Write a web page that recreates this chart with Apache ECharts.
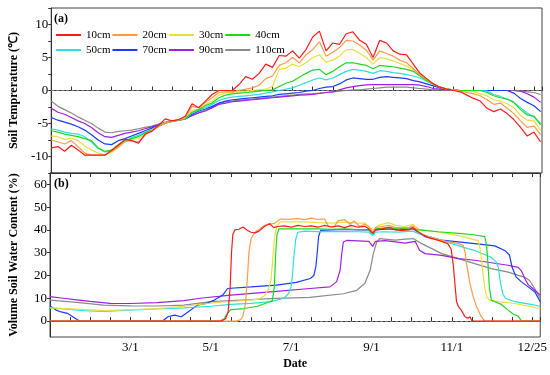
<!DOCTYPE html>
<html><head><meta charset="utf-8">
<script src="https://cdn.jsdelivr.net/npm/echarts@6/dist/echarts.min.js"></script>
<style>html,body{margin:0;padding:0;background:#fff}#c{width:550px;height:375px}</style>
</head><body><div id="c"></div>
<script>
// ---- data ----
const depths = ['10cm','20cm','30cm','40cm','50cm','70cm','90cm','110cm'];
const colors = ['#ff1a1a','#ff9a4a','#e8e040','#1ed81e','#2fdede','#1a3cff','#a020e0','#8a8a8a'];
// temperature sampled every 5 days from Jan 1 (day 0) to day 365
const tDays = Array.from({length:74},(_,i)=>i*5);
const t10 = [-8.7,-8.5,-9.2,-8.3,-9.0,-9.8,-9.8,-9.8,-9.8,-9.1,
 -8.3,-7.4,-7.6,-8.0,-6.6,-6.2,-5.3,-4.3,-4.6,-4.4,
 -3.9,-2.0,-2.6,-1.6,-0.6,0.0,0.0,0.0,0.9,2.1,
 1.7,2.6,4.0,3.5,5.3,5.2,6.0,4.9,6.2,8.1,
 9.0,6.0,7.2,7.0,8.6,8.9,7.6,7.0,5.0,7.6,
 7.2,6.0,5.5,5.4,4.0,2.6,1.8,1.0,0.5,0.2,
 0.0,-0.2,-0.7,-1.2,-1.6,-2.7,-3.2,-2.8,-3.5,-4.4,
 -5.6,-6.9,-6.3,-7.8];
const t20 = [-7.5,-7.8,-8.1,-7.6,-8.5,-9.5,-9.8,-9.8,-9.8,-9.2,
 -8.6,-7.7,-7.6,-7.8,-6.8,-6.0,-5.5,-4.9,-4.7,-4.5,
 -4.1,-2.4,-2.6,-1.8,-1.1,-0.3,-0.2,-0.2,0.0,0.2,
 0.4,0.8,1.8,2.2,3.8,4.2,5.0,4.2,5.4,6.2,
 7.4,5.2,5.8,6.5,7.6,7.5,6.9,6.1,4.6,6.0,
 5.6,5.2,4.6,4.2,3.3,2.4,1.7,1.0,0.5,0.2,
 0.1,-0.1,-0.3,-0.5,-0.8,-1.4,-2.1,-1.9,-2.7,-3.5,
 -4.6,-5.6,-5.4,-6.7];
const t30 = [-6.9,-7.0,-7.4,-7.2,-7.6,-8.4,-9.0,-9.5,-9.7,-9.4,
 -8.6,-7.6,-7.4,-7.3,-6.6,-6.0,-5.4,-4.9,-4.7,-4.5,
 -4.2,-3.0,-2.8,-2.1,-1.6,-0.7,-0.4,-0.3,-0.2,-0.1,
 0.0,0.1,0.2,0.6,3.2,3.4,4.0,3.6,4.2,5.0,
 5.4,4.3,4.6,5.2,6.2,6.2,5.6,5.0,4.0,5.0,
 4.8,4.5,4.1,3.7,3.1,2.3,1.6,1.0,0.5,0.2,
 0.1,0.0,-0.1,-0.2,-0.5,-0.8,-1.4,-1.6,-2.0,-2.6,
 -3.8,-4.5,-4.6,-6.0];
const t40 = [-6.1,-6.3,-6.6,-6.8,-7.0,-7.3,-7.6,-8.7,-9.2,-9.0,
 -8.2,-7.6,-7.3,-7.0,-6.4,-6.0,-5.4,-5.0,-4.7,-4.5,
 -4.3,-3.3,-2.9,-2.3,-1.9,-1.1,-0.7,-0.5,-0.4,-0.3,
 -0.2,-0.1,0.0,0.1,0.6,1.1,1.4,2.0,2.6,3.1,
 3.2,2.4,2.9,3.6,4.2,4.2,4.0,3.8,3.3,3.8,
 3.7,3.6,3.4,3.2,2.9,2.2,1.5,0.9,0.5,0.2,
 0.1,0.0,0.0,0.0,0.0,-0.3,-0.8,-1.1,-1.3,-1.8,
 -2.9,-3.7,-3.9,-5.2];
const t50 = [-5.8,-6.0,-6.3,-6.5,-6.6,-7.0,-7.8,-8.8,-9.3,-9.2,
 -8.3,-7.8,-7.1,-6.8,-6.3,-5.9,-5.4,-4.9,-4.7,-4.5,
 -4.3,-3.4,-3.0,-2.6,-2.1,-1.5,-1.2,-1.0,-0.9,-0.8,
 -0.7,-0.6,-0.4,-0.2,0.0,0.2,0.4,0.8,1.2,1.6,
 1.9,1.6,1.9,2.4,2.9,3.2,3.1,2.9,2.6,3.0,
 2.9,2.7,2.6,2.4,2.2,1.9,1.4,0.9,0.5,0.2,
 0.1,0.0,0.0,0.0,0.0,-0.1,-0.6,-0.9,-1.3,-1.8,
 -2.6,-3.4,-4.0,-5.0];
const t70 = [-4.1,-4.5,-4.8,-5.1,-5.5,-6.0,-6.7,-7.5,-8.1,-8.2,
 -7.6,-7.3,-6.9,-6.5,-6.1,-5.7,-5.3,-4.9,-4.7,-4.5,
 -4.3,-3.6,-3.1,-2.8,-2.4,-1.9,-1.6,-1.4,-1.3,-1.2,
 -1.1,-1.0,-0.9,-0.8,-0.6,-0.5,-0.4,-0.3,-0.1,0.0,
 0.3,0.5,0.6,1.0,1.6,1.9,1.8,1.7,1.7,2.0,
 2.1,2.0,1.9,1.8,1.5,1.3,1.0,0.7,0.4,0.2,
 0.1,0.0,0.0,0.0,0.0,0.0,0.0,0.0,0.0,-0.4,
 -1.2,-1.8,-2.3,-3.2];
const t90 = [-2.7,-3.3,-3.6,-4.1,-4.6,-5.0,-5.6,-6.4,-7.0,-7.1,
 -6.8,-6.5,-6.3,-6.1,-5.8,-5.5,-5.2,-4.9,-4.6,-4.5,
 -4.3,-3.8,-3.4,-3.1,-2.6,-2.1,-1.9,-1.7,-1.6,-1.5,
 -1.4,-1.3,-1.2,-1.1,-1.0,-0.9,-0.8,-0.7,-0.65,-0.6,
 -0.45,-0.3,-0.2,0.1,0.4,0.6,0.75,0.85,0.9,0.9,
 0.9,0.9,0.9,0.9,0.9,0.8,0.6,0.3,0.2,0.1,
 0.0,0.0,0.0,0.0,0.0,0.0,0.0,0.0,0.0,0.0,
 -0.1,-0.5,-1.0,-1.8];
const t110 = [-1.6,-2.4,-2.9,-3.4,-4.0,-4.5,-5.0,-5.7,-6.3,-6.4,
 -6.2,-6.1,-6.0,-5.8,-5.6,-5.4,-5.1,-4.8,-4.6,-4.5,
 -4.3,-3.8,-3.3,-3.0,-2.6,-2.0,-1.7,-1.6,-1.5,-1.4,
 -1.3,-1.2,-1.1,-1.0,-0.9,-0.8,-0.7,-0.6,-0.5,-0.5,
 -0.4,-0.3,-0.2,-0.1,0.0,0.1,0.1,0.2,0.3,0.4,
 0.5,0.5,0.5,0.5,0.4,0.3,0.2,0.1,0.1,0.0,
 0.0,0.0,0.0,0.0,0.0,0.0,0.0,0.0,0.0,0.0,
 -0.1,-0.2,-0.3,-0.6];
const tempVals = [t10,t20,t30,t40,t50,t70,t90,t110];

// soil water content, [day, %]
const w10 = [[0,0],[128,0],[131,1],[133,4],[134.5,15],[135.5,30],[136.5,38],[138,40],[141,40.3],[144,41.3],[147,40],[150,39],[153,38.7],[156,39.5],[160,41.5],[164,42.8],[167,41],[170,41.5],[175,41.8],[180,41.2],[185,42],[190,41.5],[195,41.8],[200,41.2],[205,42],[210,41.3],[215,41.8],[220,41],[225,42],[230,41.2],[235,41.6],[238,40.5],[241,38.5],[243,40],[248,40.5],[253,41.2],[258,40],[263,39.8],[268,40],[271,41],[274,39.5],[278,38],[283,36.5],[290,35.4],[297,34],[299.5,31.5],[301,25],[302.3,16.5],[303.5,8.5],[305,6.3],[307,4.8],[309.8,1.9],[312,1.2],[313.5,1.9],[315,0],[366,0]];
const w20 = [[0,0],[139,0],[142,0.5],[144,2],[146,8],[147.5,20],[148.5,30],[150,36],[152,38],[154,39.5],[157,40.5],[160,42],[164,42.5],[168,43],[172,44.8],[178,44.6],[185,45],[190,44.5],[195,45.2],[200,44.6],[205,44.8],[208,41.5],[212,41.3],[215,44],[220,44.5],[224,42.5],[227,44],[231,41.5],[235,42.5],[238,41.5],[241,39],[243,41],[248,41.5],[253,42],[258,41],[263,41],[268,41],[271,41.8],[275,39],[280,37.6],[292,35.4],[305,34],[308.5,33.2],[310,30],[311,25],[312.5,20],[313.5,16.5],[316,10.6],[318.5,6.3],[322,1.9],[324.6,0],[366,0]];
const w30 = [[0,5.8],[20,5.3],[40,4.6],[60,5.0],[80,5.5],[100,6.5],[115,7.5],[125,8.2],[140,8.8],[155,9.5],[160,11],[163,14],[165,18],[166,25],[167,33],[168,38],[169.5,42],[172,43.5],[180,43.5],[190,43.5],[200,43.2],[210,43],[220,43.4],[230,43],[235,43],[241,40],[245,42],[250,42.8],[253,43.2],[258,42],[265,41.5],[271,42.5],[275,40.4],[290,39],[305,37.5],[315,36],[319.7,35.3],[321,32],[322,28],[323,22],[324.6,14.8],[326,10.6],[328,9.2],[335,8.5],[347,7.7],[359,6.3],[366,5.5]];
const w40 = [[0,0],[127,0],[130,1],[132,3],[135,5],[145,5.5],[155,6.5],[164,8.5],[166,9],[167.5,15],[168.5,30],[169.5,38],[171,40.5],[180,40.5],[190,40.5],[200,40.5],[210,40.3],[220,40.5],[230,40.2],[238,40],[241,38.5],[243,40.5],[253,41],[260,40.5],[271,41],[275,40],[290,39.2],[305,38.5],[315,38],[324.6,37.1],[326,33],[327,25],[328,15],[329.5,9.2],[332,8.5],[337,7.3],[342,4.8],[346,3],[349.5,2.2],[352,0],[366,0]];
const w50 = [[0,5.8],[10,5.3],[25,4.6],[40,4.2],[60,4.8],[80,5.3],[100,5.8],[120,6.5],[135,7.3],[150,7.8],[165,8.5],[174.5,10],[178,12],[180,15],[181,20],[182,28],[183.5,36],[185,39],[190,39.5],[200,39.3],[210,39.4],[220,39.3],[230,39.2],[238,39],[241,37.5],[243,39],[250,39.2],[260,39],[271,39.5],[275,38.4],[290,36],[300,34],[312,31.8],[317,31],[329.5,28],[333,26],[334.7,23.6],[336,17.8],[338,12],[340,10],[347,8.5],[359,7.3],[366,6.5]];
const w70 = [[0,6.6],[4.6,4.8],[8.3,4],[13,3.4],[17,1.9],[22,0],[84,0],[88,1.9],[93,2.6],[98,1.9],[103,4],[110,7],[116.6,7.7],[122.7,9.2],[129,11.4],[132.6,14.3],[150,15],[169,15.8],[184,17],[194.3,18.7],[197,20],[198.5,24],[199.5,30],[200.5,37],[202,39.8],[210,40],[220,40.2],[230,40],[238,40],[241,38.3],[243,40],[253,40.5],[260,40],[271,40.5],[275,39],[280,37],[292.5,35.5],[317,34],[332,33],[339.5,31],[343,29],[345,23.6],[348,19.3],[352,17.2],[357,15],[362,12.8],[366,8.5]];
const w90 = [[0,10.7],[10,10],[20,9.3],[30,8.6],[45,7.8],[60,7.7],[80,8.1],[100,9.0],[112,10],[135,11.4],[169,13],[194,14.3],[209,15],[214,17.3],[216.6,22.3],[217.8,29.6],[219,34.7],[221.5,35.4],[230,35.2],[238,35],[241,32.8],[243,35],[250,35.3],[258,34.8],[265,34.2],[272.6,35],[276,31],[280,29.6],[292.5,28.8],[305,27.4],[317,26.7],[342,24.5],[349.5,23.6],[352,22],[355,18],[357,16],[360,14.5],[366,11.4]];
const w110 = [[0,9.2],[20,8.2],[40,7.0],[60,6.7],[80,6.6],[100,7.0],[120,8.5],[169,10],[194,10.4],[219,12],[229,13.5],[235,16.5],[239,22.3],[241.4,29.6],[243.9,34.7],[246,36.2],[257.7,35.5],[265,36],[271,36.2],[277.5,34],[285,31.8],[292.5,29.6],[305,27.4],[317,25.2],[329.5,23],[342,21.5],[354,19.3],[358,17.8],[362,14.2],[366,10]];
const waterVals = [w10,w20,w30,w40,w50,w70,w90,w110];

const xTickValues = [60,120,180,240,300,360];
const xTickLabels = ['3/1','5/1','7/1','9/1','11/1','12/25'];
const tempTickLabels = [-10,-5,0,5,10];
const waterTickLabels = [0,10,20,30,40,50,60];

// ---- chart ----
const FONT = '"Liberation Serif", "Times New Roman", serif';
const chart = echarts.init(document.getElementById('c'), null, {renderer:'canvas'});
const zOrder = [10,9,7,8,6,5,4,3]; // 30cm below 50cm where they meet
const series = [];
depths.forEach((n,i)=>{
  series.push({name:n,type:'line',xAxisIndex:0,yAxisIndex:0,showSymbol:false,symbol:'none',
    data:tDays.map((d,k)=>[d,tempVals[i][k]]),
    lineStyle:{color:colors[i],width:1.2},itemStyle:{color:colors[i]},z:zOrder[i]});
});
depths.forEach((n,i)=>{
  series.push({name:n,type:'line',xAxisIndex:1,yAxisIndex:1,showSymbol:false,symbol:'none',
    data:waterVals[i],
    lineStyle:{color:colors[i],width:1.2},itemStyle:{color:colors[i]},z:zOrder[i]});
});
const zeroLine = (xi,yi)=>({type:'line',xAxisIndex:xi,yAxisIndex:yi,data:[],z:1,silent:true,
  markLine:{silent:true,symbol:'none',label:{show:false},animation:false,
    lineStyle:{type:[3,2],color:'#777',width:1},data:[{yAxis:0}]}});
series.push(zeroLine(0,0), zeroLine(1,1));

const labelMap = {}; xTickValues.forEach((v,i)=>labelMap[v]=xTickLabels[i]);
const axisCol = '#333';
const xBase = (gi)=>({type:'value',gridIndex:gi,min:0,max:366,interval:15,
  axisLine:{lineStyle:{color:axisCol,width:1}},
  axisTick:{inside:true,length:4,lineStyle:{color:axisCol}},
  splitLine:{show:false},axisLabel:{show:false}});

const legendBase = {icon:'rect',itemWidth:25,itemHeight:2,itemGap:2,left:51,
  textStyle:{fontFamily:FONT,fontSize:11,color:'#000',lineHeight:14}};

chart.setOption({
  animation:false,
  textStyle:{fontFamily:FONT},
  grid:[{left:49,right:8,top:8,height:165,show:true,borderColor:'#444',borderWidth:1},
        {left:49,right:8,top:173,height:164,show:true,borderColor:'#444',borderWidth:1}],
  legend:[Object.assign({},legendBase,{top:23,data:depths.slice(0,4)}),
          Object.assign({},legendBase,{top:38,data:depths.slice(4)})],
  xAxis:[xBase(0),
    Object.assign(xBase(1),{name:'Date',nameLocation:'middle',nameGap:21,
      nameTextStyle:{fontFamily:FONT,fontWeight:'bold',fontSize:12,color:'#000'},
      axisLabel:{show:true,margin:4,fontFamily:FONT,fontSize:13,color:'#000',
        formatter:v=>labelMap[v]||''}}),
    Object.assign(xBase(1),{position:'top'})],
  yAxis:[
    {type:'value',gridIndex:0,min:-12.5,max:12.5,interval:2.5,
     name:'Soil Temprerature (\u2103)',nameLocation:'middle',nameGap:30,
     nameTextStyle:{fontFamily:FONT,fontWeight:'bold',fontSize:12,color:'#000'},
     axisLine:{lineStyle:{color:axisCol}},axisTick:{inside:false,length:3,lineStyle:{color:axisCol}},
     splitLine:{show:false},
     axisLabel:{margin:3,fontFamily:FONT,fontSize:13,color:'#000',
       formatter:v=>tempTickLabels.indexOf(v)>=0?String(v):''}},
    {type:'value',gridIndex:1,min:-7,max:65,
     name:'Volume Soil Water Content (%)',nameLocation:'middle',nameGap:30,
     nameTextStyle:{fontFamily:FONT,fontWeight:'bold',fontSize:12,color:'#000'},
     axisLine:{lineStyle:{color:axisCol}},
     axisTick:{inside:false,length:3,lineStyle:{color:axisCol},customValues:waterTickLabels},
     splitLine:{show:false},
     axisLabel:{margin:3,fontFamily:FONT,fontSize:13,color:'#000',customValues:waterTickLabels}}
  ],
  graphic:[
    {type:'text',left:54,top:13,style:{text:'(a)',font:'bold 12px '+FONT,fill:'#000'}},
    {type:'text',left:54,top:178,style:{text:'(b)',font:'bold 12px '+FONT,fill:'#000'}}
  ],
  series:series
});
</script></body></html>
